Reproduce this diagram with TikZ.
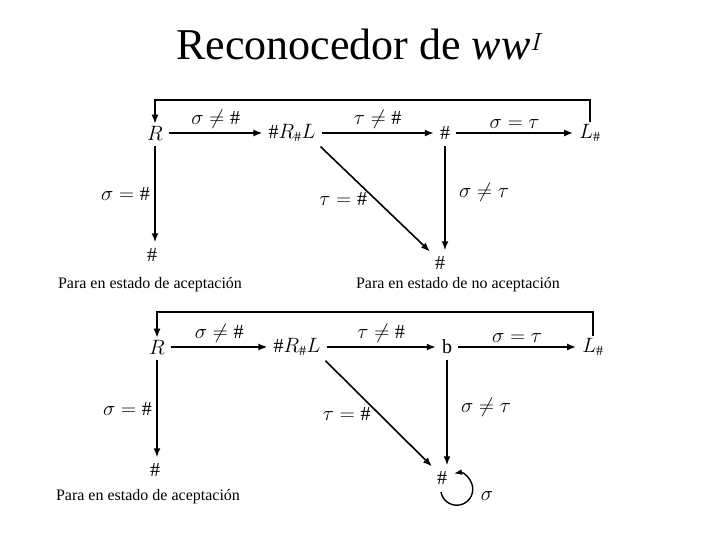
\documentclass[tikz,border=0pt]{standalone}
\usepackage{fontspec}
\setmainfont{Liberation Serif}
\usepackage{amsmath}
\usetikzlibrary{arrows.meta}

\begin{document}
\begin{tikzpicture}[x=1pt, y=-1pt,
    state/.style={font=\fontsize{20}{24}\selectfont, inner sep=2pt},
    lbl/.style={font=\fontsize{20}{24}\selectfont},
    note/.style={font=\fontsize{16}{19}\selectfont},
    arr/.style={-{Latex[length=9pt, width=7pt]}, line width=1.6pt, shorten >=4pt, shorten <=4pt},
    wire/.style={line width=1.6pt}
]
    \useasboundingbox (0,0) rectangle (720,540);
    \node[font=\fontsize{44}{50}\selectfont] (title) at (360,44) {Reconocedor de \textit{ww}$^{I}$};

    % maquina superior
    \node[state] (R1) at (155,133) {$R$};
    \node[state] (RL1) at (292,133) {$\#R_{\#}L$};
    \node[state] (H1) at (445,133) {$\#$};
    \node[state] (L1) at (590,133) {$L_{\#}$};
    \node[state] (E1) at (152,255) {$\#$};
    \node[state] (N1) at (440,263) {$\#$};
    \node[note] (acc1) at (150,285) {Para en estado de aceptación};
    \node[note] (nacc1) at (458,285) {Para en estado de no aceptación};

    \draw[arr] (R1) -- node[lbl, above] {$\sigma\neq\#$} (RL1);
    \draw[arr] (RL1) -- node[lbl, above] {$\tau\neq\#$} (H1);
    \draw[arr] (H1) -- node[lbl, above] {$\sigma=\tau$} (L1);
    \draw[arr] (R1) -- node[lbl, left=1pt] {$\sigma=\#$} (R1 |- E1.north);
    \draw[arr] (RL1.south east) -- node[lbl, left=4pt] {$\tau=\#$} (N1.north west);
    \draw[arr] (H1) -- node[lbl, pos=0.45, right=10pt] {$\sigma\neq\tau$} (H1 |- N1.north);
    \draw[wire, -{Latex[length=9pt, width=7pt]}] (L1.north) -- ++(0,-22) -| (R1.north);

    % maquina inferior
    \node[state] (R2) at (157,347) {$R$};
    \node[state] (RL2) at (297,347) {$\#R_{\#}L$};
    \node[state] (B2) at (447,347) {b};
    \node[state] (L2) at (593,347) {$L_{\#}$};
    \node[state] (E2) at (155,470) {$\#$};
    \node[state] (N2) at (442,478) {$\#$};
    \node[note] (acc2) at (148,497) {Para en estado de aceptación};

    \draw[arr] (R2) -- node[lbl, above] {$\sigma\neq\#$} (RL2);
    \draw[arr] (RL2) -- node[lbl, above] {$\tau\neq\#$} (B2);
    \draw[arr] (B2) -- node[lbl, above] {$\sigma=\tau$} (L2);
    \draw[arr] (R2) -- node[lbl, left=1pt] {$\sigma=\#$} (R2 |- E2.north);
    \draw[arr] (RL2.south east) -- node[lbl, left=4pt] {$\tau=\#$} (N2.north west);
    \draw[arr] (B2) -- node[lbl, pos=0.45, right=10pt] {$\sigma\neq\tau$} (B2 |- N2.north);
    \draw[wire, -{Latex[length=9pt, width=7pt]}] (L2.north) -- ++(0,-24) -| (R2.north);
    \draw[line width=1.4pt, -{Latex[length=8pt, width=6pt]}] (N2.center) ++(-1,14) arc[start angle=170, end angle=-100, radius=16];
    \node[lbl] (sig) at (487,496) {$\sigma$};
\end{tikzpicture}
\end{document}
